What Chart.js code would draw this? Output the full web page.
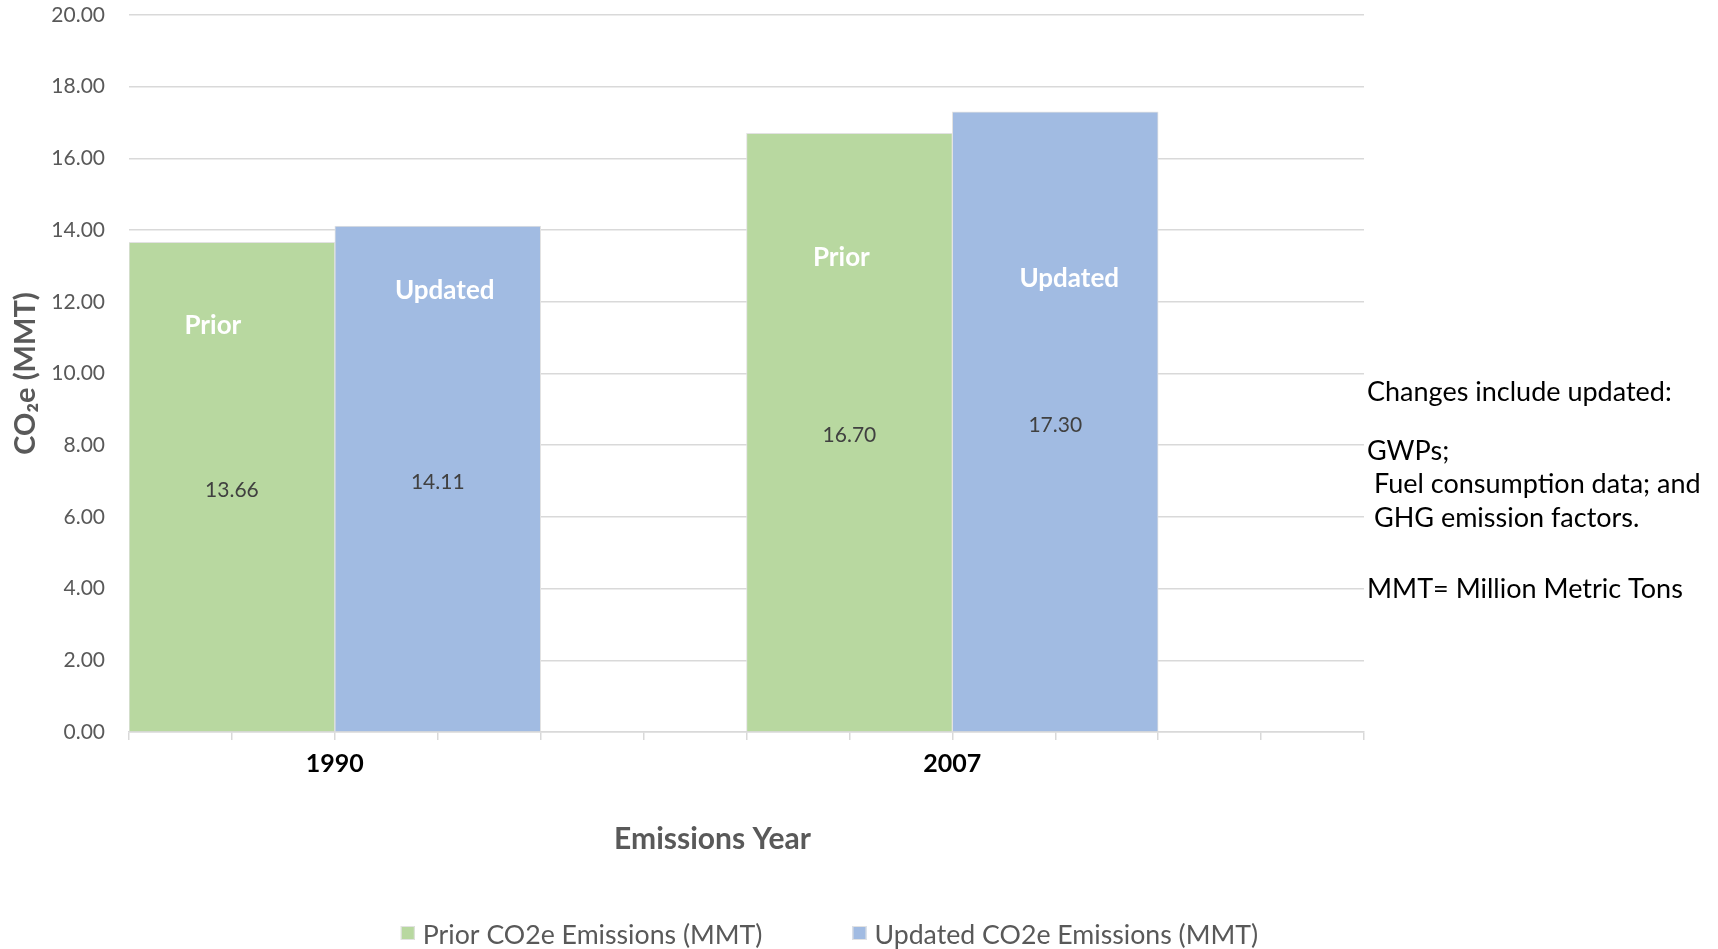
<!DOCTYPE html>
<html>
<head>
<meta charset="utf-8">
<script src="https://cdn.jsdelivr.net/npm/chart.js@4.4.1/dist/chart.umd.min.js"></script>
<style>
html, body { margin: 0; padding: 0; background: #ffffff; overflow: hidden; }
#wrap { position: relative; width: 1718px; height: 949px; }
</style>
</head>
<body>
<div id="wrap"><canvas id="c" width="1718" height="949"></canvas></div>
<script>
// ---- Data ----
const categories = ['1990', '2007'];
const priorValues = [13.66, 16.70];
const updatedValues = [14.11, 17.30];
const seriesNames = ['Prior CO2e Emissions (MMT)', 'Updated CO2e Emissions (MMT)'];
const seriesShortNames = ['Prior', 'Updated'];
const yTitle = 'CO\u2082e (MMT)';
const xTitle = 'Emissions Year';
const noteLines = ['Changes include updated:', 'GWPs;', ' Fuel consumption data; and', ' GHG emission factors.', 'MMT= Million Metric Tons'];

// ---- Label placement (annotation layout, in axis units) ----
const nameLabelY = [[11.37, 13.25], [12.34, 12.68]];
const nameLabelNudge = [[-0.185, -0.078], [0.068, 0.136]];

// category index -> position on the 0..12 linear axis used by the original layout
const xPos = i => 2 + 6 * i;

const colors = ['#b8d8a0', '#a1bbe2'];
const FONT = 'Lato, Carlito, "Open Sans", sans-serif';

const datasets = [priorValues, updatedValues].map((vals, di) => ({
  label: seriesNames[di],
  data: vals.map((v, i) => ({ x: xPos(i), y: v })),
  backgroundColor: colors[di],
  borderColor: '#e2e2e2',
  borderWidth: 1,
  barThickness: 'flex',
  categoryPercentage: 2 / 3,
  barPercentage: 1
}));

const annotations = {
  id: 'annotations',
  afterDatasetsDraw(chart) {
    const { ctx, scales: { x, y } } = chart;
    const unitPx = x.getPixelForValue(1) - x.getPixelForValue(0);
    ctx.save();
    chart.data.datasets.forEach((ds, di) => {
      const meta = chart.getDatasetMeta(di);
      meta.data.forEach((bar, i) => {
        const v = ds.data[i].y;
        ctx.textAlign = 'center';
        ctx.textBaseline = 'alphabetic';
        // value label at bar mid-height
        ctx.font = '21px ' + FONT;
        ctx.fillStyle = '#404040';
        ctx.fillText(v.toFixed(2), bar.x, (bar.y + bar.base) / 2 + 2.5 + 0.36 * 21);
        // series name label
        ctx.font = 'bold 26px ' + FONT;
        ctx.fillStyle = '#ffffff';
        ctx.fillText(seriesShortNames[di], bar.x + nameLabelNudge[di][i] * unitPx,
          y.getPixelForValue(nameLabelY[di][i]) + 0.36 * 26);
      });
    });
    ctx.restore();
  },
  afterDraw(chart) {
    const { ctx, chartArea } = chart;
    ctx.save();
    ctx.textBaseline = 'alphabetic';
    // x axis title
    ctx.font = 'bold 30px ' + FONT;
    ctx.fillStyle = '#595959';
    ctx.textAlign = 'center';
    ctx.fillText(xTitle, (chartArea.left + chartArea.right) / 2 - 34, chartArea.bottom + 117);

    // notes at right
    ctx.font = '27px ' + FONT;
    ctx.fillStyle = '#000000';
    ctx.textAlign = 'left';
    const noteBase = [401, 460, 493, 527, 598];
    noteLines.forEach((t, k) => ctx.fillText(t, chartArea.right + 3, noteBase[k]));

    // legend
    ctx.font = '26.7px ' + FONT;
    const box = 14, gapBT = 8, gapItems = 90;
    const widths = seriesNames.map(n => ctx.measureText(n).width);
    const total = widths.reduce((a, w) => a + box + gapBT + w, 0) + gapItems * (seriesNames.length - 1);
    let lx = (chartArea.left + chartArea.right) / 2 + 83 - total / 2;
    const baseY = 944;
    chart.data.datasets.forEach((ds, di) => {
      ctx.fillStyle = ds.backgroundColor;
      ctx.fillRect(lx, 926, box, box);
      ctx.strokeStyle = '#e2e2e2';
      ctx.lineWidth = 1;
      ctx.strokeRect(lx + 0.5, 926.5, box - 1, box - 1);
      ctx.fillStyle = '#595959';
      ctx.fillText(seriesNames[di], lx + box + gapBT, baseY);
      lx += box + gapBT + widths[di] + gapItems;
    });
    ctx.restore();
  }
};

new Chart(document.getElementById('c'), {
  type: 'bar',
  data: { datasets },
  options: {
    responsive: false,
    animation: false,
    devicePixelRatio: 1,
    layout: { padding: { top: 15, right: 354, bottom: 0, left: 0 } },
    plugins: { legend: { display: false }, tooltip: { enabled: false } },
    scales: {
      x: {
        type: 'linear',
        min: 0,
        max: 12,
        offset: false,
        grid: { display: true, offset: false, drawOnChartArea: false, drawTicks: true, tickLength: 8, color: '#d9d9d9', lineWidth: 1.5 },
        border: { display: true, color: '#d9d9d9', width: 1.5 },
        ticks: {
          stepSize: 1,
          autoSkip: false,
          maxRotation: 0,
          padding: 9,
          color: '#000000',
          font: { family: FONT, size: 25, weight: 'bold' },
          callback: v => {
            const i = categories.findIndex((c, k) => xPos(k) === v);
            return i >= 0 ? categories[i] : '';
          }
        },
        afterFit: s => { s.height = 217; }
      },
      y: {
        min: 0,
        max: 20,
        grid: { color: '#d9d9d9', lineWidth: 1.5, drawTicks: true, tickLength: 22, tickColor: 'rgba(0,0,0,0)' },
        border: { display: false },
        ticks: {
          stepSize: 2,
          padding: 2,
          color: '#595959',
          font: { family: FONT, size: 21 },
          callback: v => Number(v).toFixed(2)
        },
        title: {
          display: true,
          text: yTitle,
          color: '#595959',
          font: { family: FONT, size: 29, weight: 'bold' },
          padding: { top: 8, bottom: 0 }
        },
        afterFit: s => { s.width = 129; }
      }
    }
  },
  plugins: [annotations]
});
</script>
</body>
</html>
